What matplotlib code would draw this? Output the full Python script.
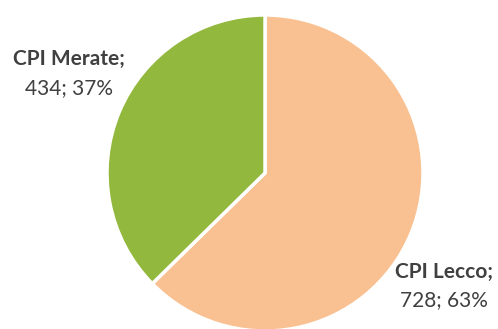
import matplotlib.pyplot as plt

# Dati
labels = ['CPI Lecco', 'CPI Merate']
values = [728, 434]
colors = ['#F9C191', '#92B83E']

W, H = 498, 329
fig = plt.figure(figsize=(W / 100, H / 100), dpi=100)
ax = fig.add_axes([0, 0, 1, 1])

cx, cy, r = 265, H - 173, 158
ax.pie(values, colors=colors, startangle=90, counterclock=False,
       center=(cx, cy), radius=r, frame=True,
       wedgeprops=dict(edgecolor='white', linewidth=2.5))
ax.set_xlim(0, W)
ax.set_ylim(0, H)
ax.set_aspect('equal')
ax.axis('off')

total = sum(values)
pct = [round(v / total * 100) for v in values]
txt = dict(color='#404040', fontsize=15, family='Lato', ha='center', va='center')

# etichette
pos = [(444, H - 272, H - 300), (69, H - 59, H - 88)]
for lab, v, p, (x, y1, y2) in zip(labels, values, pct, pos):
    ax.text(x, y1, lab + ';', fontweight='bold', **txt)
    ax.text(x, y2, f'{v}; {p}%', **txt)

fig.savefig('out.png', dpi=100, facecolor='white')
